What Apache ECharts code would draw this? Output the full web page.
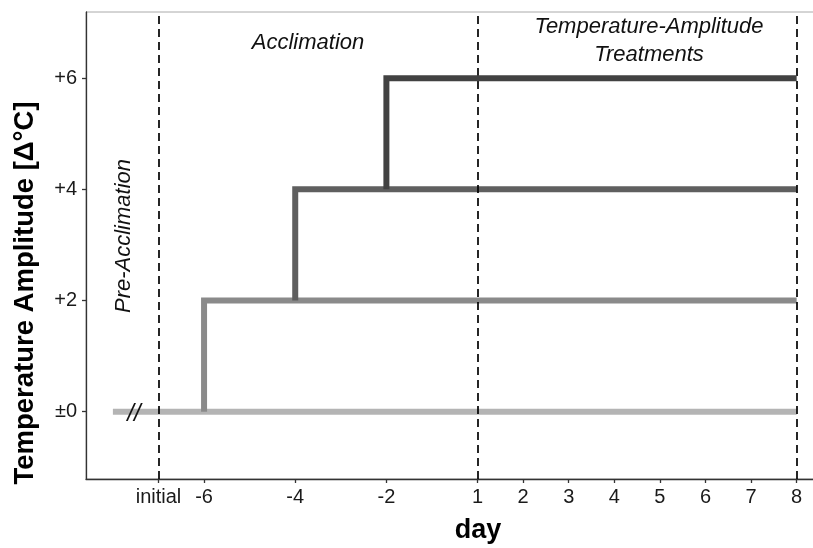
<!DOCTYPE html>
<html>
<head>
<meta charset="utf-8">
<script src="https://cdn.jsdelivr.net/npm/echarts@6/dist/echarts.min.js"></script>
<style>
html,body{margin:0;padding:0;background:#fff;}
#chart{width:813px;height:548px;}
</style>
</head>
<body>
<div id="chart"></div>
<script>
// x positions on the drawing scale and their labels
const xTickValues = [-7, -6, -4, -2, 0, 1, 2, 3, 4, 5, 6, 7];
const xTickLabels = ['initial', '-6', '-4', '-2', '1', '2', '3', '4', '5', '6', '7', '8'];
const yTickValues = [0, 2, 4, 6];
const yTickLabels = ['\u00B10', '+2', '+4', '+6'];
// phase boundaries (dashed lines): initial, day 1, day 8
const phaseLines = [-7, 0, 7];
// amplitude treatment paths [x, amplitude]
const amp0 = [[-8, 0], [7, 0]];
const amp2 = [[-6, 0], [-6, 2], [7, 2]];
const amp4 = [[-4, 2], [-4, 4], [7, 4]];
const amp6 = [[-2, 4], [-2, 6], [7, 6]];
const seriesNames = ['\u00B10', '+2', '+4', '+6'];
const seriesColors = ['#b4b4b4', '#8a8a8a', '#5f5f5f', '#424242'];

const FONT = '"Liberation Sans", Arial, Helvetica, sans-serif';
const chart = echarts.init(document.getElementById('chart'), null, {renderer: 'canvas'});

function lineSeries(name, data, color, z) {
  return {
    name: name, type: 'line', data: data, showSymbol: false, symbol: 'none',
    z: z, animation: false,
    lineStyle: {width: 6, color: color, cap: 'butt', join: 'miter'}
  };
}

const option = {
  animation: false,
  backgroundColor: '#fff',
  grid: {left: 86, right: -11, top: 12, bottom: 69, containLabel: false, outerBoundsMode: 'none',
    show: true, borderColor: '#aaaaaa', borderWidth: 1, backgroundColor: 'transparent'},
  xAxis: {
    type: 'value', min: -8.59, max: 7.6,
    splitLine: {show: false},
    axisLine: {show: true, onZero: false, lineStyle: {color: '#333', width: 1.3}},
    axisTick: {show: true, length: 4, customValues: xTickValues, lineStyle: {color: '#333', width: 1.3}},
    axisLabel: {
      customValues: xTickValues, margin: 8,
      color: '#1a1a1a', fontSize: 20, fontFamily: FONT,
      formatter: function (v) { const i = xTickValues.indexOf(v); return i >= 0 ? xTickLabels[i] : ''; }
    }
  },
  yAxis: {
    type: 'value', min: -1.21, max: 7.19,
    splitLine: {show: false},
    axisLine: {show: true, onZero: false, lineStyle: {color: '#333', width: 1.3}},
    axisTick: {show: true, length: 4, customValues: yTickValues, lineStyle: {color: '#333', width: 1.3}},
    axisLabel: {
      customValues: yTickValues, margin: 9,
      color: '#1a1a1a', fontSize: 20, fontFamily: FONT,
      formatter: function (v) { const i = yTickValues.indexOf(v); return i >= 0 ? yTickLabels[i] : ''; }
    }
  },
  series: [
    lineSeries(seriesNames[0], amp0, seriesColors[0], 2),
    lineSeries(seriesNames[1], amp2, seriesColors[1], 3),
    lineSeries(seriesNames[2], amp4, seriesColors[2], 4),
    lineSeries(seriesNames[3], amp6, seriesColors[3], 5),
    {
      name: 'phases', type: 'line', data: [], z: 10, silent: true,
      markLine: {
        silent: true, symbol: ['none', 'none'], animation: false,
        label: {show: false},
        lineStyle: {type: [8, 5], color: '#000', width: 1.7},
        data: phaseLines.map(function (x) { return {xAxis: x}; })
      }
    }
  ],
  graphic: [
    {type: 'text', x: 25, y: 293, rotation: Math.PI / 2, z: 20,
      style: {text: 'Temperature Amplitude [\u0394\u00B0C]', font: 'bold 27.5px ' + FONT, fill: '#000', align: 'center', verticalAlign: 'middle'}},
    {type: 'text', x: 478, y: 531, z: 20,
      style: {text: 'day', font: 'bold 27px ' + FONT, fill: '#000', align: 'center', verticalAlign: 'middle'}},
    {type: 'text', x: 308, y: 43, z: 20,
      style: {text: 'Acclimation', font: 'italic 22px ' + FONT, fill: '#111', align: 'center', verticalAlign: 'middle'}},
    {type: 'text', x: 649, y: 27, z: 20,
      style: {text: 'Temperature-Amplitude', font: 'italic 22px ' + FONT, fill: '#111', align: 'center', verticalAlign: 'middle'}},
    {type: 'text', x: 649, y: 55, z: 20,
      style: {text: 'Treatments', font: 'italic 22px ' + FONT, fill: '#111', align: 'center', verticalAlign: 'middle'}},
    {type: 'text', x: 124, y: 236, rotation: Math.PI / 2, z: 20,
      style: {text: 'Pre-Acclimation', font: 'italic 22px ' + FONT, fill: '#111', align: 'center', verticalAlign: 'middle'}},
    {type: 'text', x: 134, y: 414, z: 20,
      style: {text: '//', font: 'italic 24px ' + FONT, fill: '#111', align: 'center', verticalAlign: 'middle'}}
  ]
};
chart.setOption(option);
</script>
</body>
</html>
